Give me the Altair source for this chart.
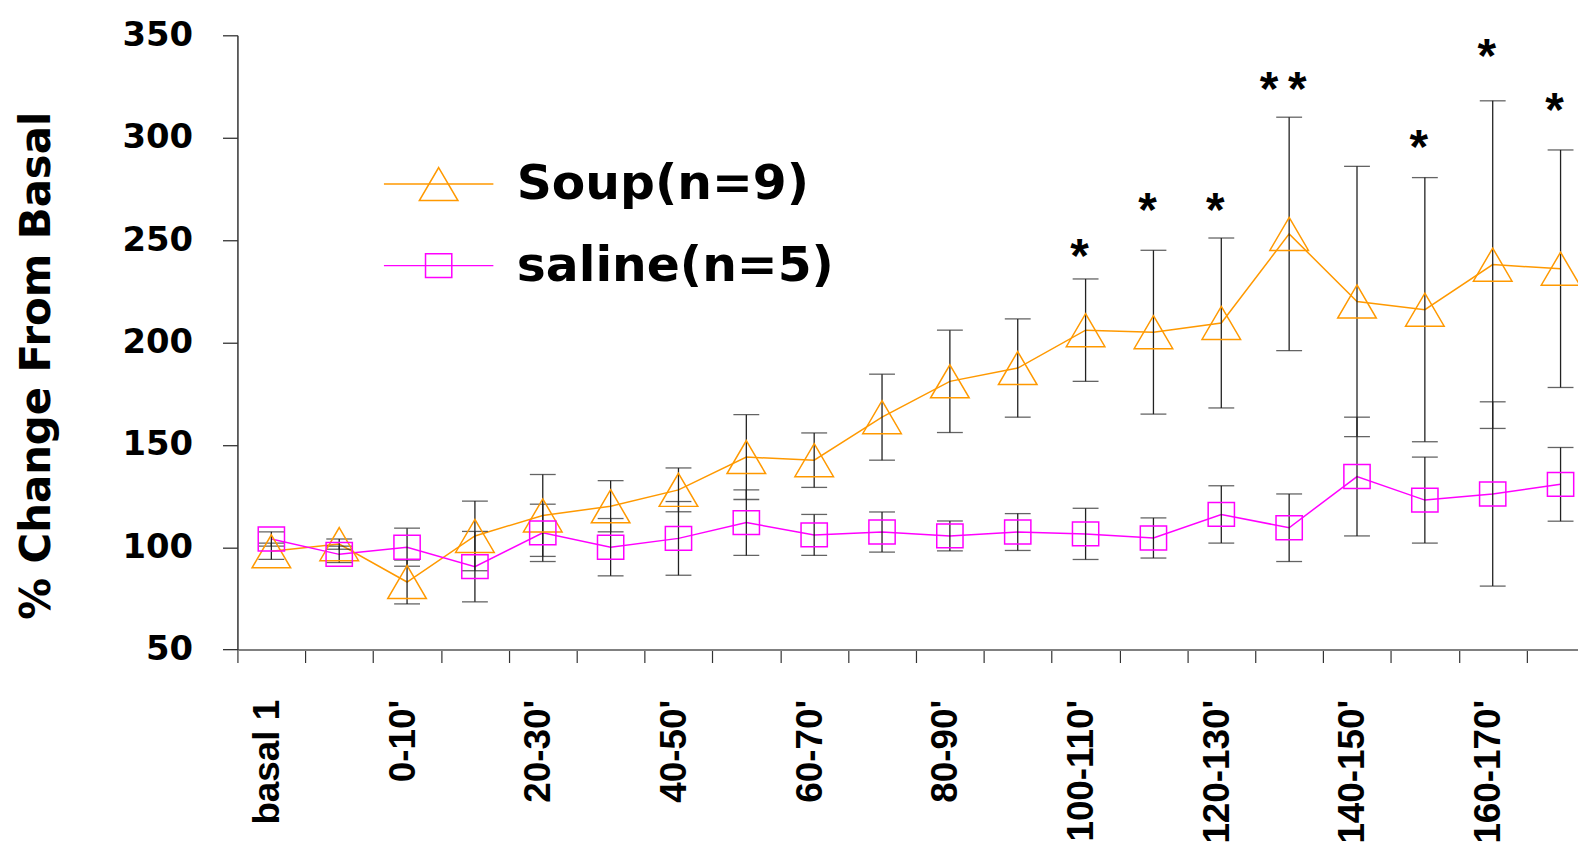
import json
import altair as alt
import pandas as pd

categories = ["basal 1", "basal 2", "0-10'", "10-20'", "20-30'", "30-40'", "40-50'",
              "50-60'", "60-70'", "70-80'", "80-90'", "90-100'", "100-110'", "110-120'",
              "120-130'", "130-140'", "140-150'", "150-160'", "160-170'", "170-180'"]
series_names = ["Soup(n=9)", "saline(n=5)"]
soup_mean = [98, 101.5, 83, 105.5, 115.5, 120, 128, 144, 142.5, 163.5,
             181, 187.5, 206, 205, 209.5, 253, 220, 216, 238, 236]
soup_sem = [4, 2.5, 10.7, 17, 20, 12.5, 10.7, 20.7, 13.3, 21,
            25, 24, 25, 40, 41.5, 57, 66, 64.5, 80, 58]
saline_mean = [104, 96.5, 100, 90.5, 107, 100, 104.3, 112, 106, 107.4,
               105.5, 107.4, 106.5, 104.5, 116, 109.5, 134.5, 123, 126, 130.7]
saline_sem = [3.5, 4, 9.3, 17.2, 14, 14, 18, 16, 10, 9.8,
              7.3, 9, 12.5, 9.8, 14, 16.5, 29, 21, 45, 18]
star_idx = [12, 13, 14, 15, 17, 18, 19]
star_y = [246.7, 268.9, 268.9, 327.9, 299.9, 344, 318]
star_text = ["*", "*", "*", "*\u2009*", "*", "*", "*"]
y_ticks = [50, 100, 150, 200, 250, 300, 350]

colors = ["#FF9900", "#FF00FF"]
TRI = "M0,-0.83L0.97,0.83L-0.97,0.83Z"
SQ = "M-0.66,-0.6H0.66V0.6H-0.66Z"
LINE = "M-2.75,0H2.75"

rows = []
for i, c in enumerate(categories):
    rows.append(dict(idx=i, cat=c, series=series_names[0], mean=soup_mean[i], sem=soup_sem[i]))
    rows.append(dict(idx=i, cat=c, series=series_names[1], mean=saline_mean[i], sem=saline_sem[i]))
df = pd.DataFrame(rows)
df["lo"] = df["mean"] - df["sem"]
df["hi"] = df["mean"] + df["sem"]
df["series_pt"] = df["series"]

stars = pd.DataFrame({"idx": star_idx, "y": star_y, "t": star_text})

boundaries = [i - 0.5 for i in range(len(categories))]
centers = list(range(0, len(categories), 2))
x_values = sorted(boundaries + centers)

x_axis = alt.Axis(
    values=x_values,
    labelExpr="datum.value % 1 === 0 ? " + json.dumps(categories) + "[datum.value] : ''",
    tickOpacity={"condition": {"test": "datum.value % 1 === 0", "value": 0}, "value": 1},
    labelAngle=270, labelAlign="right", labelBaseline="middle",
    labelFont="Liberation Sans", labelFontWeight="bold", labelFontSize=37, labelColor="black",
    labelPadding=37, labelOffset=-4, labelOverlap=False, labelFlush=False, labelBound=False,
    labelLimit=0,
    tickSize=13, tickColor="#333333", tickWidth=1.2,
    domainColor="#808080", domainWidth=2, grid=False, title=None,
)
y_axis = alt.Axis(
    values=y_ticks, grid=False,
    labelFont="DejaVu Sans", labelFontWeight="bold", labelFontSize=34, labelColor="black",
    labelPadding=30, tickSize=15, tickColor="#333333", tickWidth=1.3,
    domainColor="#333333", domainWidth=1.5,
    title="% Change From Basal", titleFont="DejaVu Sans", titleFontWeight="bold",
    titleFontSize=42, titleColor="black", titleAngle=270, titleAlign="center",
    titleBaseline="alphabetic", titleX=-188.6, titleY=331.7,
)
x_scale = alt.Scale(domain=[-0.5, 19.257], nice=False, zero=False)
y_scale = alt.Scale(domain=[50, 350], nice=False, zero=False)

def X():
    return alt.X("idx:Q", scale=x_scale, axis=x_axis)

def Y(field):
    return alt.Y(field, scale=y_scale, axis=y_axis)

common_legend = dict(
    title=None, orient="none", legendX=177.75, legendY=125, direction="vertical",
    symbolSize=1600, symbolStrokeWidth=1.5, labelFont="DejaVu Sans", labelFontWeight="bold",
    labelFontSize=49, labelColor="black", labelOffset=54, rowPadding=32, padding=0,
    labelLimit=0, symbolOpacity=1,
)

line = alt.Chart(df).mark_line(strokeWidth=1.5).encode(
    x=X(), y=Y("mean:Q"),
    color=alt.Color("series:N", scale=alt.Scale(domain=series_names, range=colors),
                    legend=alt.Legend(symbolType=LINE, symbolFillColor="transparent", **common_legend)),
)

rules = alt.Chart(df).mark_rule(color="#222222", strokeWidth=1.3).encode(
    x=X(), y=Y("lo:Q"), y2="hi:Q",
)

caps = alt.Chart(df).transform_fold(["lo", "hi"], as_=["k", "v"]).mark_tick(
    orient="horizontal", color="#222222", size=26, thickness=1.3
).encode(x=X(), y=Y("v:Q"))

pt_legend = alt.Legend(labelOpacity=0, **common_legend)
points = alt.Chart(df).mark_point(filled=False, size=1600, strokeWidth=1.5, opacity=1).encode(
    x=X(), y=Y("mean:Q"),
    color=alt.Color("series_pt:N", scale=alt.Scale(domain=series_names, range=colors), legend=pt_legend),
    shape=alt.Shape("series_pt:N", scale=alt.Scale(domain=series_names, range=[TRI, SQ]), legend=pt_legend),
)

star_layer = alt.Chart(stars).mark_text(
    font="Liberation Sans", fontWeight="bold", fontSize=48, baseline="alphabetic",
    align="center", dy=25, dx=-6, color="black",
).encode(x=X(), y=Y("y:Q"), text="t:N")

chart = alt.layer(line, rules, caps, points, star_layer).resolve_scale(
    color="independent", shape="independent"
).properties(
    width=1347.4, height=617.4,
    autosize=alt.AutoSizeParams(type="none"),
    padding={"left": 230.6, "top": 25.3, "right": 0, "bottom": 199},
    background="white",
).configure_view(stroke=None)

chart.save("out.html", embed_options={"renderer": "svg", "actions": False})
